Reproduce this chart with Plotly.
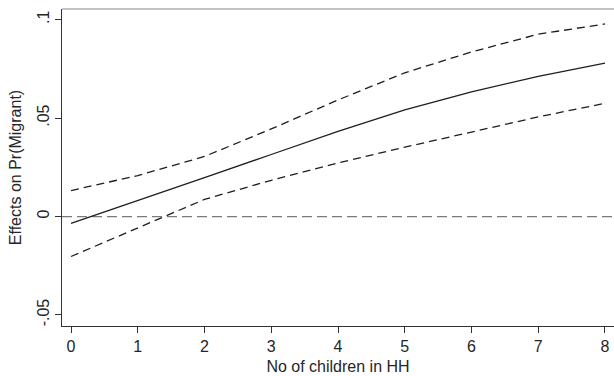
import plotly.graph_objects as go

children = [0, 1, 2, 3, 4, 5, 6, 7, 8]
effect = [-0.0035, 0.0080, 0.0198, 0.0315, 0.0432, 0.0542, 0.0633, 0.0712, 0.0779]
upper_ci = [0.0132, 0.0208, 0.0305, 0.0445, 0.0592, 0.0730, 0.0836, 0.0926, 0.0978]
lower_ci = [-0.0203, -0.0060, 0.0087, 0.0184, 0.0272, 0.0352, 0.0430, 0.0506, 0.0575]

y_tickvals = [-0.05, 0, 0.05, 0.1]
y_ticktext = ["-.05", "0", ".05", ".1"]
x_tickvals = children

font_family = "Liberation Sans, Arial, sans-serif"
line_col = "#1e1e1e"

fig = go.Figure()
fig.add_trace(go.Scatter(x=children, y=upper_ci, mode="lines",
                         line=dict(color=line_col, width=1.3, dash="8px,5px")))
fig.add_trace(go.Scatter(x=children, y=effect, mode="lines",
                         line=dict(color=line_col, width=1.3)))
fig.add_trace(go.Scatter(x=children, y=lower_ci, mode="lines",
                         line=dict(color=line_col, width=1.3, dash="8px,5px")))

# zero reference line
fig.add_shape(type="line", xref="paper", yref="y", x0=0, x1=1, y0=0, y1=0,
              line=dict(color="#7a7a7a", width=1.3, dash="10px,5px"), layer="below")
# top border of plot region
fig.add_shape(type="line", xref="paper", yref="paper", x0=0, x1=1, y0=1, y1=1,
              line=dict(color="#8a8a8a", width=1.2))

fig.update_layout(
    width=614, height=376,
    margin=dict(l=62, r=0, t=9, b=50),
    paper_bgcolor="white", plot_bgcolor="white",
    showlegend=False,
    font=dict(family=font_family, size=16, color="#262626"),
)
fig.update_xaxes(
    range=[-0.135, 8.135], tickvals=x_tickvals,
    showgrid=False, zeroline=False,
    showline=True, linecolor="#333333", linewidth=1.2,
    ticks="outside", ticklen=6, tickcolor="#333333", tickwidth=1,
    tickfont=dict(size=16),
    title=dict(text="No of children in HH", font=dict(size=16), standoff=6),
    automargin=False,
)
fig.update_yaxes(
    range=[-0.0556, 0.1054], tickvals=y_tickvals, ticktext=y_ticktext,
    tickangle=-90,
    showgrid=False, zeroline=False,
    showline=True, linecolor="#333333", linewidth=1.2,
    ticks="outside", ticklen=6, tickcolor="#333333", tickwidth=1,
    tickfont=dict(size=16),
    title=dict(text="Effects on Pr(Migrant)", font=dict(size=16), standoff=8),
    automargin=False,
)

fig.write_html("out.html", config={"displayModeBar": False},
               post_script="document.body.style.margin='0';")
